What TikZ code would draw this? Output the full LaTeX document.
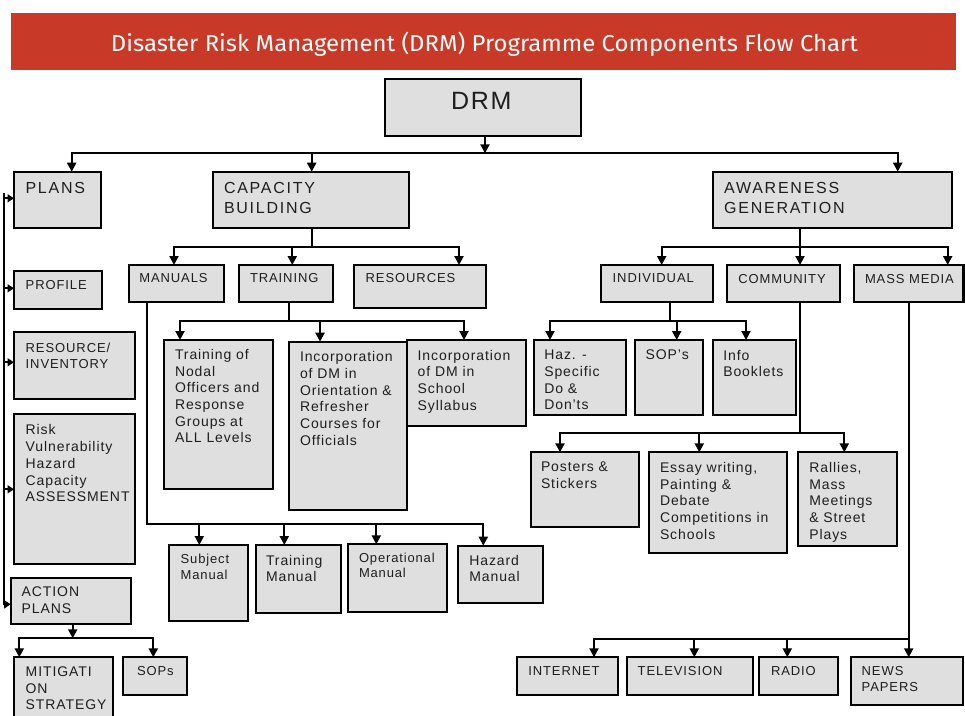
\documentclass[tikz,border=0pt]{standalone}
\usepackage{fontspec}
\usepackage{graphicx}
\setmainfont{Liberation Sans}
\newfontfamily\titlefont{Fira Sans}
\newfontfamily\bodyfont[LetterSpace=6.5]{Liberation Sans}
\newfontfamily\headfont[LetterSpace=11]{Liberation Sans}
\newfontfamily\labfont[LetterSpace=7]{Liberation Sans}
\usetikzlibrary{arrows.meta,calc}
\definecolor{titlered}{HTML}{C83A27}
\definecolor{boxgray}{HTML}{DFDFDF}
\definecolor{inkc}{HTML}{1E1E1E}
\tikzset{
  box/.style={draw=black, fill=boxgray, line width=2.1pt, inner sep=0pt, outer sep=0pt, rectangle},
  txt/.style={inner sep=0pt, outer sep=0pt, align=left, text=inkc},
  fdrm/.style={font={\labfont\fontsize{25}{30}\selectfont}},
  fhead/.style={font={\headfont\fontsize{16}{20}\selectfont}},
  flab/.style={font={\labfont\fontsize{13}{16}\selectfont}},
  fbody/.style={font={\bodyfont\fontsize{14}{16.7}\selectfont}},
  fsmall/.style={font={\bodyfont\fontsize{13}{15.7}\selectfont}},
  ln/.style={draw=black, line width=2.1pt, line cap=rect},
  arr/.style={ln, -{Triangle[width=9pt,length=9pt]}},
  larr/.style={draw=black, line width=2.1pt, -{Triangle[width=8pt,length=6.5pt]}},
}
% name, x1, y1, x2, y2, font style, text, text shift
\newcommand\bx[8]{%
  \node[box, minimum width=#4pt-#2pt, minimum height=#5pt-#3pt, anchor=north west] (#1) at (#2,#3) {};
  \node[txt, #6, anchor=north west] at ([shift={(#8)}]#1.north west) {#7};
}
\begin{document}
\begin{tikzpicture}[x=1pt,y=-1pt]
\useasboundingbox (0,0) rectangle (965,715);
% title
\node[fill=titlered, inner sep=0pt, minimum width=945pt, minimum height=57pt, anchor=north west] (titlebar) at (11,12.5) {};
\node[anchor=base, inner sep=0pt, text=white] (titletext) at (484.5,51.7)
  {\resizebox{747pt}{\height}{\titlefont\fontsize{23}{26}\selectfont Disaster Risk Management (DRM) Programme Components Flow Chart}};

% boxes
\bx{drm}{385}{79.3}{581}{136}{fdrm}{DRM}{66,13}
\bx{plans}{14}{171.7}{101}{227.7}{fhead}{PLANS}{11.5,10.3}
\bx{cap}{213.3}{171.7}{409.3}{227.7}{fhead}{CAPACITY\\BUILDING}{10.7,10.3}
\bx{aware}{712.7}{171.7}{951.7}{227.7}{fhead}{AWARENESS\\GENERATION}{11.5,10.5}
\bx{manuals}{129}{265}{224.3}{302.3}{flab}{MANUALS}{10.3,8.5}
\bx{training}{238.7}{265}{333.3}{302.3}{flab}{TRAINING}{11.3,8.5}
\bx{resources}{354.3}{265}{485.7}{308.3}{flab}{RESOURCES}{11.4,8.5}
\bx{indiv}{601}{265}{712.7}{302.3}{flab}{INDIVIDUAL}{11.7,9}
\bx{comm}{727.3}{265}{840}{302.3}{flab}{COMMUNITY}{11,9}
\bx{mass}{853.7}{265}{963.5}{302.3}{flab}{MASS MEDIA}{11.3,9}
\bx{profile}{14}{271}{102}{309}{flab}{PROFILE}{11.7,9.5}
\bx{resinv}{14}{331.7}{134.7}{399}{flab}{RESOURCE/\\INVENTORY}{11.7,11.5}
\bx{risk}{14}{414.3}{134.7}{564.3}{fbody}{Risk\\Vulnerability\\Hazard\\Capacity\\ASSESSMENT}{11.7,10.5}
\bx{action}{10.7}{577.7}{130.7}{624}{fbody}{ACTION\\PLANS}{11,9}
\bx{mitig}{14.3}{657.3}{112.7}{730}{fbody}{MITIGATI\\ON\\STRATEGY}{11.4,9.4}
\bx{sops}{123}{657.3}{186.7}{695}{flab}{SOPs}{14,9.4}
\bx{nodal}{164}{340}{273.3}{489.3}{fbody}{Training of\\Nodal\\Officers and\\Response\\Groups at\\ALL Levels}{11,9.3}
\bx{orient}{289}{341.7}{407.3}{510}{fbody}{Incorporation\\of DM in\\Orientation \&\\Refresher\\Courses for\\Officials}{11,10}
\bx{school}{406.7}{340}{526}{426}{fbody}{Incorporation\\of DM in\\School\\Syllabus}{11,10}
\bx{subject}{169.3}{545}{247.7}{620.7}{fsmall}{Subject\\Manual}{11.4,9}
\bx{trman}{255.7}{545}{340.7}{612.7}{fbody}{Training\\Manual}{10.3,10}
\bx{opman}{348.3}{544.3}{446.7}{612.3}{fsmall}{Operational\\Manual}{10.7,8.4}
\bx{hazman}{457.7}{545.7}{542.7}{603.3}{fbody}{Hazard\\Manual}{11.6,9.3}
\bx{haz}{534}{340}{626}{415}{fbody}{Haz. -\\Specific\\Do \&\\Don’ts}{10.3,10}
\bx{sop2}{635}{340}{702.7}{415}{fbody}{SOP’s}{10.7,10}
\bx{info}{712.7}{340}{795.7}{415}{fbody}{Info\\Booklets}{10.6,10}
\bx{posters}{531}{452.3}{639.3}{526.7}{fbody}{Posters \&\\Stickers}{10,10}
\bx{essay}{649}{452.3}{787.3}{552.7}{fbody}{Essay writing,\\Painting \&\\Debate\\Competitions in\\Schools}{11,10}
\bx{rallies}{798.3}{452.3}{896.7}{545.7}{fbody}{Rallies,\\Mass\\Meetings\\\& Street\\Plays}{11,10}
\bx{internet}{516.7}{657.3}{618.3}{695}{flab}{INTERNET}{11.6,9.4}
\bx{tv}{626.7}{657.3}{753.3}{695}{flab}{TELEVISION}{11,9.4}
\bx{radio}{759.3}{657.3}{837.7}{695}{flab}{RADIO}{11.7,9.4}
\bx{news}{851}{657.3}{962.7}{705}{flab}{NEWS\\PAPERS}{10.7,9.4}

% top bus
\coordinate (tbL) at (71.7,153.3);
\coordinate (tbC) at (311.7,153.3);
\coordinate (tbR) at (897.7,153.3);
\coordinate (tbD) at (485,153.3);
\draw[arr] (tbD |- drm.south) -- (tbD);
\draw[arr] (tbC) -- (tbL) -- (tbL |- plans.north);
\draw[arr] (tbC) -- (tbR) -- (tbR |- aware.north);
\draw[arr] (tbC) -- (tbC |- cap.north);

% capacity bus
\coordinate (cbM) at (311.7,246.7);
\coordinate (cbL) at (174,246.7);
\coordinate (cbT) at (292.3,246.7);
\coordinate (cbR) at (459,246.7);
\draw[ln] (cbM |- cap.south) -- (cbM);
\draw[arr] (cbM) -- (cbL) -- (cbL |- manuals.north);
\draw[arr] (cbM) -- (cbR) -- (cbR |- resources.north);
\draw[arr] (cbT) -- (cbT |- training.north);

% awareness bus
\coordinate (abM) at (800,246.7);
\coordinate (abL) at (661.7,246.7);
\coordinate (abR) at (947.7,246.7);
\draw[ln] (abM |- aware.south) -- (abM);
\draw[arr] (abM) -- (abL) -- (abL |- indiv.north);
\draw[arr] (abM) -- (abR) -- (abR |- mass.north);
\draw[arr] (abM) -- (abM |- comm.north);

% manuals bus
\coordinate (mbL) at (146.7,524.3);
\coordinate (mbR) at (483.3,524.3);
\coordinate (mb1) at (199.3,524.3);
\coordinate (mb2) at (284.3,524.3);
\coordinate (mb3) at (376.3,524.3);
\draw[arr] (mbL |- manuals.south) -- (mbL) -- (mbR) -- (mbR |- hazman.north);
\draw[arr] (mb1) -- (mb1 |- subject.north);
\draw[arr] (mb2) -- (mb2 |- trman.north);
\draw[arr] (mb3) -- (mb3 |- opman.north);

% training bus
\coordinate (trM) at (289.3,320.7);
\coordinate (trL) at (180,320.7);
\coordinate (trC) at (320,320.7);
\coordinate (trR) at (464,320.7);
\draw[ln] (trM |- training.south) -- (trM);
\draw[arr] (trM) -- (trL) -- (trL |- nodal.north);
\draw[arr] (trM) -- (trR) -- (trR |- school.north);
\draw[arr] (trC) -- (trC |- orient.north);

% individual bus
\coordinate (inM) at (670,321);
\coordinate (inL) at (550,321);
\coordinate (inC) at (676.7,321);
\coordinate (inR) at (746,321);
\draw[ln] (inM |- indiv.south) -- (inM);
\draw[arr] (inM) -- (inL) -- (inL |- haz.north);
\draw[arr] (inM) -- (inR) -- (inR |- info.north);
\draw[arr] (inC) -- (inC |- sop2.north);

% community bus
\coordinate (cmM) at (800,433.3);
\coordinate (cmL) at (560,433.3);
\coordinate (cmC) at (699.3,433.3);
\coordinate (cmR) at (844.3,433.3);
\draw[ln] (cmM |- comm.south) -- (cmM);
\draw[arr] (cmM) -- (cmL) -- (cmL |- posters.north);
\draw[arr] (cmM) -- (cmR) -- (cmR |- rallies.north);
\draw[arr] (cmC) -- (cmC |- essay.north);

% mass media bus
\coordinate (mmM) at (908.7,639);
\coordinate (mmL) at (594,639);
\coordinate (mm2) at (694.3,639);
\coordinate (mm3) at (787.3,639);
\draw[arr] (mmM |- mass.south) -- (mmM |- news.north);
\draw[arr] (mmM) -- (mmL) -- (mmL |- internet.north);
\draw[arr] (mm2) -- (mm2 |- tv.north);
\draw[arr] (mm3) -- (mm3 |- radio.north);

% left feeder line
\coordinate (lvT) at (4,194);
\coordinate (lvB) at (4,604.3);
\coordinate (lv1) at (4,198.3);
\coordinate (lv2) at (4,288.3);
\coordinate (lv3) at (4,362.3);
\coordinate (lv4) at (4,489.3);
\draw[larr, line cap=rect] (lvT) -- (lvB) -- (lvB -| action.west);
\draw[larr] (lv1) -- (lv1 -| plans.west);
\draw[larr] (lv2) -- (lv2 -| profile.west);
\draw[larr] (lv3) -- (lv3 -| resinv.west);
\draw[larr] (lv4) -- (lv4 -| risk.west);

% action plans bus
\coordinate (acM) at (72.7,638.3);
\coordinate (acL) at (19.3,638.3);
\coordinate (acR) at (153.3,638.3);
\draw[arr] (acM |- action.south) -- (acM);
\draw[arr] (acM) -- (acL) -- (acL |- mitig.north);
\draw[arr] (acM) -- (acR) -- (acR |- sops.north);
\end{tikzpicture}
\end{document}
